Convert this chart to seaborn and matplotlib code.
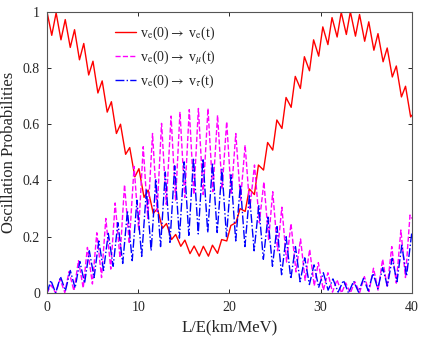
import numpy as np
import pandas as pd
import matplotlib
matplotlib.use("Agg")
import seaborn as sns
import matplotlib.pyplot as plt

# valores (maximos e minimos de cada oscilacao rapida)
ee_peak_x = [0.0, 1.0, 2.0, 3.02, 4.03, 5.04, 6.05, 7.06, 8.06, 9.07, 10.08, 11.09, 12.1, 13.1,
             14.11, 15.12, 16.13, 17.14, 18.14, 19.15, 20.16, 21.17, 22.18, 23.18, 24.19, 25.2,
             26.21, 27.22, 28.22, 29.23, 30.24, 31.25, 32.26, 33.26, 34.27, 35.28, 36.29, 37.3,
             38.3, 39.31]
ee_peak_y = [1.0, 0.996, 0.972, 0.936, 0.887, 0.824, 0.754, 0.680, 0.600, 0.517, 0.442, 0.366,
             0.300, 0.247, 0.208, 0.188, 0.167, 0.166, 0.170, 0.190, 0.240, 0.300, 0.370, 0.455,
             0.535, 0.615, 0.695, 0.770, 0.840, 0.900, 0.946, 0.979, 0.998, 1.0, 0.990, 0.964,
             0.922, 0.871, 0.807, 0.735]
ee_trough_x = [0.52, 1.53, 2.55, 3.56, 4.57, 5.58, 6.6, 7.61, 8.62, 9.63, 10.64, 11.65, 12.66,
               13.66, 14.67, 15.68, 16.69, 17.7, 18.7, 19.71, 20.72, 21.73, 22.74, 23.74, 24.75,
               25.76, 26.77, 27.78, 28.78, 29.79, 30.8, 31.81, 32.82, 33.82, 34.83, 35.84, 36.85,
               37.86, 38.86, 39.87, 40.0]
ee_trough_y = [0.916, 0.900, 0.873, 0.829, 0.775, 0.711, 0.643, 0.567, 0.493, 0.413, 0.340,
               0.283, 0.230, 0.190, 0.166, 0.140, 0.131, 0.131, 0.141, 0.185, 0.250, 0.290,
               0.350, 0.437, 0.508, 0.585, 0.660, 0.727, 0.790, 0.842, 0.883, 0.910, 0.919,
               0.913, 0.895, 0.863, 0.822, 0.768, 0.697, 0.626, 0.632]

emu_peak_x = [0.44, 1.43, 2.42, 3.45, 4.43, 5.46, 6.45, 7.47, 8.5, 9.55, 10.55, 11.57, 12.56,
              13.6, 14.58, 15.6, 16.6, 17.65, 18.7, 19.7, 20.7, 21.72, 22.75, 23.78, 24.75,
              25.75, 26.75, 27.8, 28.8, 29.75, 30.8, 31.8, 32.75, 33.75, 34.8, 35.8, 36.8,
              37.8, 38.8, 39.8]
emu_peak_y = [0.028, 0.049, 0.076, 0.115, 0.162, 0.214, 0.265, 0.320, 0.385, 0.450, 0.520,
              0.567, 0.603, 0.629, 0.644, 0.652, 0.656, 0.656, 0.632, 0.609, 0.567, 0.526,
              0.455, 0.395, 0.360, 0.305, 0.247, 0.192, 0.155, 0.108, 0.072, 0.047, 0.036,
              0.040, 0.058, 0.088, 0.120, 0.165, 0.224, 0.277]
emu_trough_x = [0.0, 0.95, 1.95, 2.95, 3.97, 4.98, 5.98, 6.99, 8.0, 9.02, 10.05, 11.05, 12.07,
                13.08, 14.1, 15.1, 16.1, 17.12, 18.18, 19.2, 20.2, 21.22, 22.24, 23.28, 24.3,
                25.28, 26.27, 27.3, 28.3, 29.3, 30.3, 31.3, 32.3, 33.26, 34.28, 35.3, 36.3,
                37.3, 38.3, 39.3, 40.0]
emu_trough_y = [0.0, 0.0, 0.002, 0.008, 0.018, 0.032, 0.055, 0.085, 0.125, 0.175, 0.225, 0.265,
                0.29, 0.315, 0.33, 0.34, 0.35, 0.35, 0.36, 0.37, 0.35, 0.33, 0.30, 0.25, 0.19,
                0.15, 0.11, 0.075, 0.045, 0.025, 0.01, 0.003, 0.0, 0.0, 0.002, 0.005, 0.01,
                0.02, 0.035, 0.055, 0.265]

etau_peak_x = [0.42, 1.48, 2.55, 3.6, 4.64, 5.68, 6.72, 7.77, 8.82, 9.86, 10.9, 11.93, 12.97,
               14.0, 15.04, 16.06, 17.1, 18.15, 19.18, 20.18, 21.2, 22.2, 23.22, 24.22, 25.22,
               26.22, 27.24, 28.26, 29.28, 30.3, 31.35, 32.5, 33.62, 34.7, 35.75, 36.8, 37.85,
               38.9, 40.0]
etau_peak_y = [0.045, 0.058, 0.080, 0.112, 0.150, 0.185, 0.212, 0.250, 0.292, 0.330, 0.366,
               0.405, 0.430, 0.452, 0.466, 0.480, 0.478, 0.462, 0.440, 0.420, 0.385, 0.350,
               0.310, 0.270, 0.236, 0.200, 0.165, 0.125, 0.100, 0.072, 0.050, 0.045, 0.042,
               0.052, 0.070, 0.090, 0.123, 0.170, 0.215]
etau_trough_x = [0.0, 0.95, 2.02, 3.08, 4.12, 5.16, 6.2, 7.25, 8.3, 9.34, 10.38, 11.42, 12.45,
                 13.48, 14.52, 15.55, 16.58, 17.62, 18.66, 19.68, 20.69, 21.7, 22.71, 23.72,
                 24.72, 25.72, 26.73, 27.75, 28.77, 29.79, 30.82, 31.92, 33.06, 34.16, 35.22,
                 36.27, 37.32, 38.37, 39.42]
etau_trough_y = [0.0, 0.0, 0.008, 0.018, 0.035, 0.055, 0.08, 0.095, 0.105, 0.115, 0.13, 0.15,
                 0.165, 0.18, 0.195, 0.205, 0.21, 0.215, 0.215, 0.20, 0.185, 0.165, 0.15, 0.12,
                 0.095, 0.065, 0.05, 0.04, 0.03, 0.02, 0.01, 0.003, 0.0, 0.003, 0.008, 0.015,
                 0.025, 0.04, 0.06]

labels = [r"v$_{\rm e}$(0)$\rightarrow$ v$_{\rm e}$(t)",
          r"v$_{\rm e}$(0)$\rightarrow$ v$_{\mu}$(t)",
          r"v$_{\rm e}$(0)$\rightarrow$ v$_{\tau}$(t)"]
x_ticks = [0, 10, 20, 30, 40]
y_ticks = [0, 0.2, 0.4, 0.6, 0.8, 1.0]
y_tick_labels = ["0", "0.2", "0.4", "0.6", "0.8", "1"]


def curva(px, py, tx, ty):
    df = pd.DataFrame({"LE": list(px) + list(tx), "P": list(py) + list(ty)})
    return df.sort_values("LE").reset_index(drop=True)


sns.set_style("ticks")
plt.rcParams["font.family"] = ["Liberation Serif", "DejaVu Serif"]
plt.rcParams["mathtext.fontset"] = "stix"

fig, ax = plt.subplots(figsize=(4.25, 3.39), dpi=100)
fig.subplots_adjust(left=0.1106, right=0.969, bottom=0.1357, top=0.9655)

sns.lineplot(data=curva(ee_peak_x, ee_peak_y, ee_trough_x, ee_trough_y), x="LE", y="P",
             color="#ff0000", lw=1.0, label=labels[0], sort=False, estimator=None, ax=ax)
sns.lineplot(data=curva(emu_peak_x, emu_peak_y, emu_trough_x, emu_trough_y), x="LE", y="P",
             color="#ff00ff", lw=1.0, linestyle="--", label=labels[1], sort=False,
             estimator=None, ax=ax)
sns.lineplot(data=curva(etau_peak_x, etau_peak_y, etau_trough_x, etau_trough_y), x="LE", y="P",
             color="#0000ff", lw=1.0, linestyle="-.", label=labels[2], sort=False,
             estimator=None, ax=ax)

ax.set_xlim(0, 40)
ax.set_ylim(0, 1)
ax.set_xticks(x_ticks)
ax.set_yticks(y_ticks)
ax.set_yticklabels(y_tick_labels)
ax.tick_params(direction="in", top=True, right=True, length=3, width=0.7,
               labelsize=10, colors="#262626")
ax.tick_params(axis="x", pad=6)
ax.tick_params(axis="y", pad=5)
for sp in ax.spines.values():
    sp.set_visible(True)
    sp.set_color("#555555")
    sp.set_linewidth(0.8)

ax.set_xlabel("L/E(km/MeV)", fontsize=12, color="#262626")
ax.set_ylabel("Oscillation Probabilities", fontsize=12, color="#262626")

ax.legend(loc="upper left", bbox_to_anchor=(0.186, 0.955), frameon=False, fontsize=10,
          handlelength=1.5, handletextpad=0.3, labelspacing=0.45, borderpad=0,
          borderaxespad=0)

plt.savefig("out.png", dpi=100)
plt.close()
